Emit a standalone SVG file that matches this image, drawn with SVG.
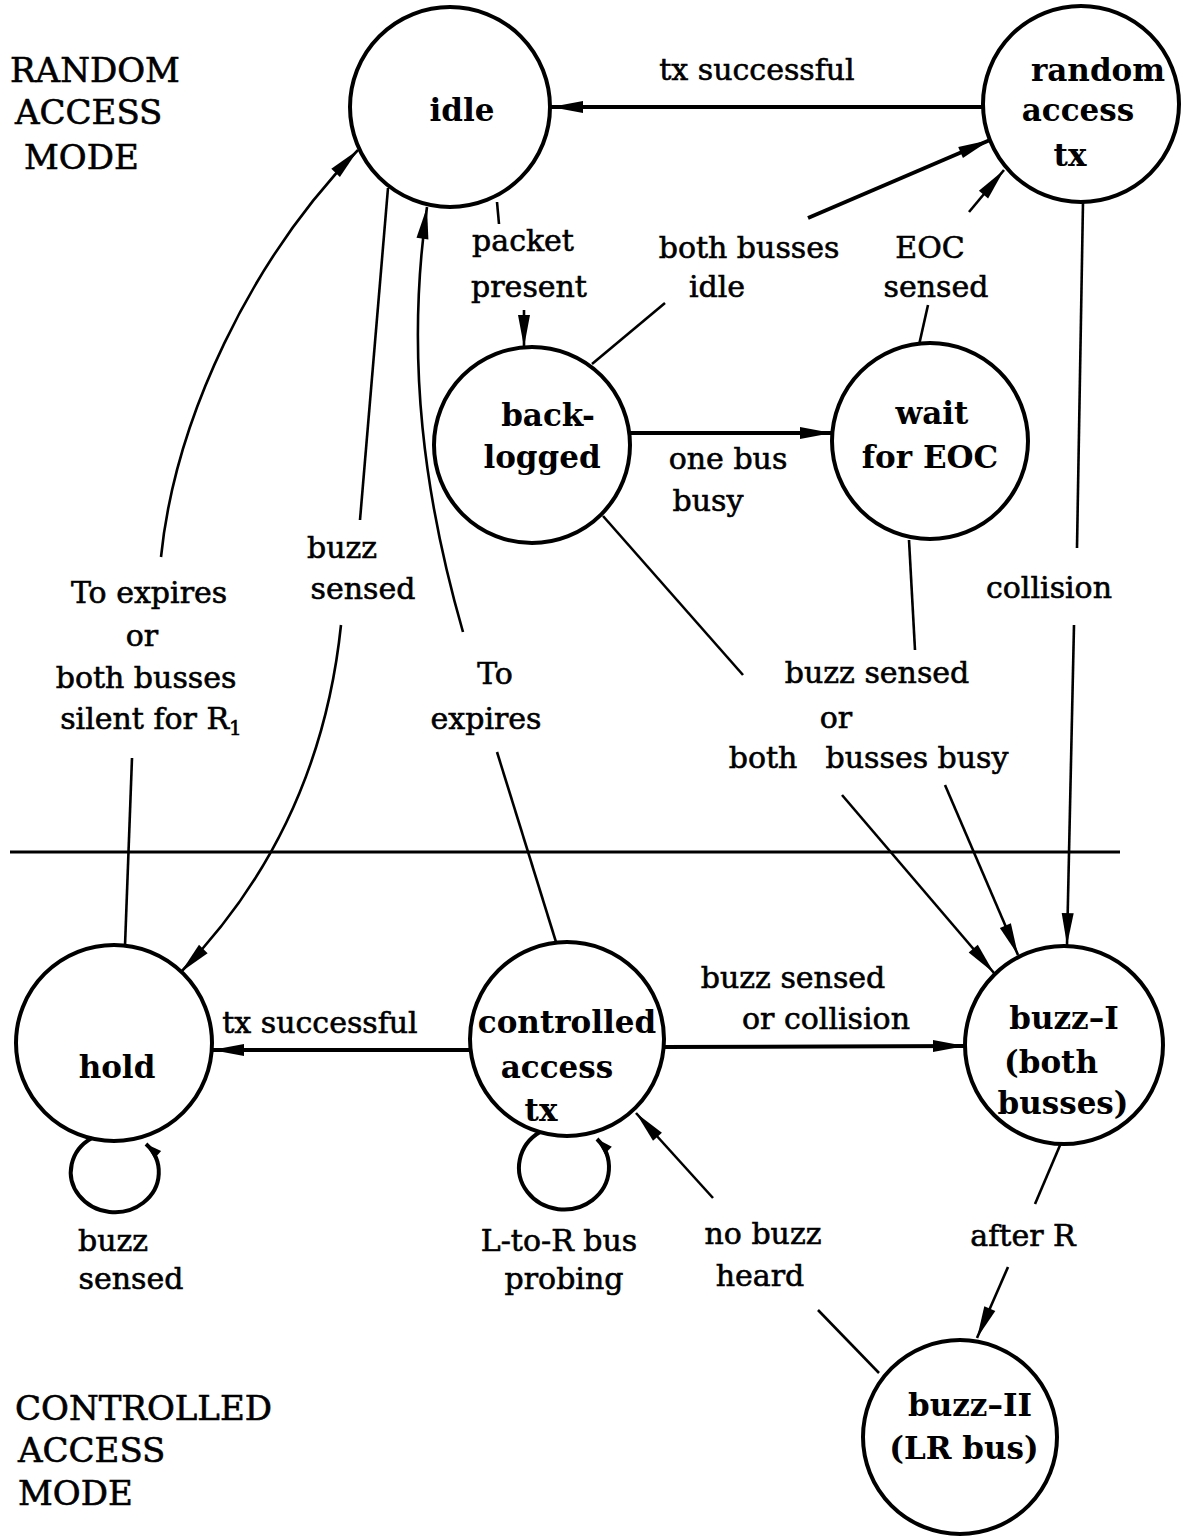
<svg xmlns="http://www.w3.org/2000/svg" width="1187" height="1536" viewBox="0 0 1187 1536">
  <style>
    .bg { fill: #ffffff; }
    .node { fill: none; stroke: #000; stroke-width: 4; }
    .edge { fill: none; stroke: #000; stroke-width: 2.6; }
    .thick { stroke-width: 4; }
    .lbl { font-family: "DejaVu Serif", "Liberation Serif", serif; font-size: 30px; fill: #000; stroke: #000; stroke-width: 0.6; text-anchor: middle; }
    .nlbl { font-family: "DejaVu Serif", "Liberation Serif", serif; font-size: 31px; font-weight: bold; fill: #000; text-anchor: middle; }
    .mode { font-family: "DejaVu Serif", "Liberation Serif", serif; font-size: 34px; fill: #000; stroke: #000; stroke-width: 0.6; }
    .sep { stroke: #000; stroke-width: 3; }
  </style>
  <defs>
    <marker id="arrow" viewBox="-34 -7 36 14" refX="0" refY="0" markerWidth="36" markerHeight="14" markerUnits="userSpaceOnUse" orient="auto">
      <path d="M0,0 L-32,-6 L-32,6 z" fill="#000"/>
    </marker>
    <marker id="arrow-small" viewBox="-18 -6 20 12" refX="0" refY="0" markerWidth="20" markerHeight="12" markerUnits="userSpaceOnUse" orient="auto">
      <path d="M0,0 L-16,-5 L-16,5 z" fill="#000"/>
    </marker>
  </defs>
  <rect class="bg" x="0" y="0" width="1187" height="1536"/>

  <!-- mode captions and divider -->
  <g id="mode-labels">
    <text class="mode" x="10" y="82">RANDOM</text>
    <text class="mode" x="15" y="124">ACCESS</text>
    <text class="mode" x="24" y="169">MODE</text>
    <text class="mode" x="15" y="1420">CONTROLLED</text>
    <text class="mode" x="18" y="1462">ACCESS</text>
    <text class="mode" x="18" y="1505">MODE</text>
    <line class="sep" x1="10" y1="852" x2="1120" y2="852"/>
  </g>

  <!-- states -->
  <g id="idle">
    <circle class="node" cx="450" cy="107" r="100"/>
    <text class="nlbl" x="462" y="121">idle</text>
  </g>
  <g id="random-access-tx">
    <circle class="node" cx="1081" cy="104" r="98"/>
    <text class="nlbl" x="1098" y="81">random</text>
    <text class="nlbl" x="1078" y="121">access</text>
    <text class="nlbl" x="1070" y="166">tx</text>
  </g>
  <g id="backlogged">
    <circle class="node" cx="532" cy="445" r="98"/>
    <text class="nlbl" x="548" y="426">back-</text>
    <text class="nlbl" x="542" y="468">logged</text>
  </g>
  <g id="wait-for-eoc">
    <circle class="node" cx="930" cy="441" r="98"/>
    <text class="nlbl" x="932" y="424">wait</text>
    <text class="nlbl" x="930" y="468">for EOC</text>
  </g>
  <g id="hold">
    <circle class="node" cx="114" cy="1043" r="98"/>
    <text class="nlbl" x="117" y="1078">hold</text>
  </g>
  <g id="controlled-access-tx">
    <circle class="node" cx="567" cy="1039" r="97"/>
    <text class="nlbl" x="567" y="1033">controlled</text>
    <text class="nlbl" x="557" y="1078">access</text>
    <text class="nlbl" x="541" y="1121">tx</text>
  </g>
  <g id="buzz-1">
    <circle class="node" cx="1064" cy="1045" r="99"/>
    <text class="nlbl" x="1064" y="1029">buzz–I</text>
    <text class="nlbl" x="1051" y="1073">(both</text>
    <text class="nlbl" x="1063" y="1114">busses)</text>
  </g>
  <g id="buzz-2">
    <circle class="node" cx="960" cy="1437" r="97"/>
    <text class="nlbl" x="970" y="1416">buzz–II</text>
    <text class="nlbl" x="964" y="1459">(LR bus)</text>
  </g>

  <!-- transitions -->
  <g id="connectors">
    <!-- random access tx -> idle -->
    <path class="edge thick" d="M985,107 L551,107" marker-end="url(#arrow)"/>
    <!-- idle -> backlogged -->
    <path class="edge" d="M497,202 L499,224"/>
    <path class="edge" d="M524,310 L524,347" marker-end="url(#arrow)"/>
    <!-- backlogged -> random access tx -->
    <path class="edge" d="M592,364 L665,303"/>
    <path class="edge thick" d="M808,218 L990,140" marker-end="url(#arrow)"/>
    <!-- wait -> random access tx -->
    <path class="edge" d="M919,345 L928,305"/>
    <path class="edge" d="M969,212 L1004,170" marker-end="url(#arrow)"/>
    <!-- backlogged -> wait -->
    <path class="edge thick" d="M630,433 L832,433" marker-end="url(#arrow)"/>
    <!-- random access tx -> buzz-I -->
    <path class="edge" d="M1083,202 L1077,548"/>
    <path class="edge" d="M1074,625 L1067,945" marker-end="url(#arrow)"/>
    <!-- backlogged -> buzz-I -->
    <path class="edge" d="M603,516 L743,675"/>
    <path class="edge" d="M842,795 L994,973" marker-end="url(#arrow)"/>
    <!-- wait -> buzz-I -->
    <path class="edge" d="M909,540 L915,650"/>
    <path class="edge" d="M945,785 L1018,955" marker-end="url(#arrow)"/>
    <!-- idle -> hold -->
    <path class="edge" d="M388,188 L360,520"/>
    <path class="edge" d="M341,625 C328,750 282,868 181,972" marker-end="url(#arrow)"/>
    <!-- hold -> idle -->
    <path class="edge" d="M132,758 L125,946"/>
    <path class="edge" d="M161,557 C175,420 250,260 358,150" marker-end="url(#arrow)"/>
    <!-- controlled access tx -> idle -->
    <path class="edge" d="M556,942 L497,752"/>
    <path class="edge" d="M463,632 C425,500 405,360 427,207" marker-end="url(#arrow)"/>
    <!-- controlled access tx -> hold -->
    <path class="edge thick" d="M470,1050 L212,1050" marker-end="url(#arrow)"/>
    <!-- controlled access tx -> buzz-I -->
    <path class="edge thick" d="M664,1047 L965,1046" marker-end="url(#arrow)"/>
    <!-- buzz-I -> buzz-II -->
    <path class="edge" d="M1061,1143 L1035,1204"/>
    <path class="edge" d="M1008,1267 L977,1338" marker-end="url(#arrow)"/>
    <!-- buzz-II -> controlled access tx -->
    <path class="edge" d="M879,1373 L818,1310"/>
    <path class="edge" d="M713,1198 L636,1113" marker-end="url(#arrow)"/>
    <!-- self loops -->
    <path class="edge thick" d="M92,1138 A44,40 0 1 0 146,1144" marker-end="url(#arrow-small)"/>
    <path class="edge thick" d="M540,1132 A45,42 0 1 0 597,1139" marker-end="url(#arrow-small)"/>
  </g>

  <!-- transition labels -->
  <g id="edge-labels">
    <text class="lbl" x="757" y="80">tx successful</text>
    <text class="lbl" x="523" y="251">packet</text>
    <text class="lbl" x="529" y="297">present</text>
    <text class="lbl" x="749" y="258">both busses</text>
    <text class="lbl" x="717" y="297">idle</text>
    <text class="lbl" x="930" y="258">EOC</text>
    <text class="lbl" x="936" y="297">sensed</text>
    <text class="lbl" x="728" y="469">one bus</text>
    <text class="lbl" x="708" y="511">busy</text>
    <text class="lbl" x="342" y="558">buzz</text>
    <text class="lbl" x="363" y="599">sensed</text>
    <text class="lbl" x="149" y="603">To expires</text>
    <text class="lbl" x="142" y="646">or</text>
    <text class="lbl" x="146" y="688">both busses</text>
    <text class="lbl" x="151" y="729">silent for R<tspan font-size="20" dy="6">1</tspan></text>
    <text class="lbl" x="1049" y="598">collision</text>
    <text class="lbl" x="495" y="684">To</text>
    <text class="lbl" x="486" y="729">expires</text>
    <text class="lbl" x="877" y="683">buzz sensed</text>
    <text class="lbl" x="836" y="728">or</text>
    <text class="lbl" x="763" y="768">both</text>
    <text class="lbl" x="917" y="768">busses busy</text>
    <text class="lbl" x="320" y="1033">tx successful</text>
    <text class="lbl" x="793" y="988">buzz sensed</text>
    <text class="lbl" x="826" y="1029">or collision</text>
    <text class="lbl" x="113" y="1251">buzz</text>
    <text class="lbl" x="131" y="1289">sensed</text>
    <text class="lbl" x="559" y="1251">L-to-R bus</text>
    <text class="lbl" x="564" y="1289">probing</text>
    <text class="lbl" x="763" y="1244">no buzz</text>
    <text class="lbl" x="760" y="1286">heard</text>
    <text class="lbl" x="1023" y="1246">after R</text>
  </g>
</svg>
